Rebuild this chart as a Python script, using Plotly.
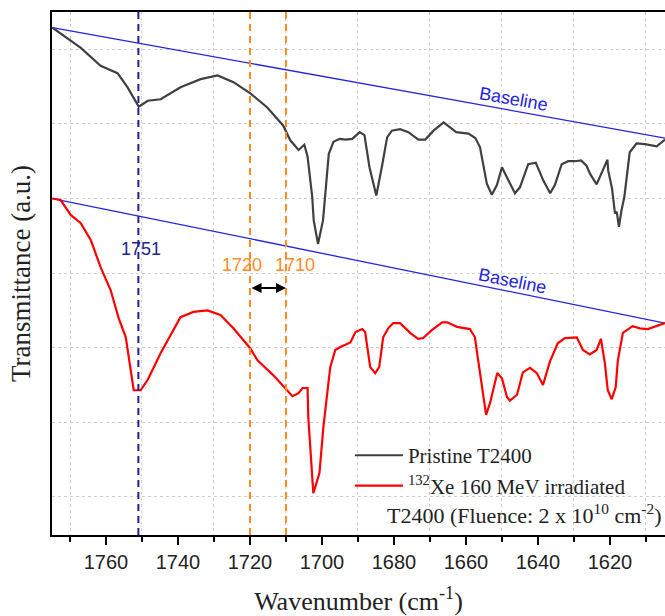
import plotly.graph_objects as go

# ---- data (wavenumber in cm-1, transmittance in arbitrary units) ----
pristine_wn = [1774.9, 1767.0, 1761.5, 1756.8, 1754.0, 1750.9, 1748.4, 1744.8, 1739.3, 1733.7,
               1729.0, 1724.6, 1719.9, 1715.2, 1710.8, 1708.8, 1706.5, 1704.9, 1704.0, 1702.7,
               1702.3, 1701.1, 1699.7, 1698.1, 1696.8, 1695.1, 1693.5, 1691.6, 1689.5, 1688.2,
               1686.8, 1684.9, 1683.3, 1681.9, 1680.6, 1678.3, 1676.0, 1673.2, 1671.3, 1669.0,
               1666.2, 1662.7, 1659.3, 1657.4, 1656.1, 1654.2, 1652.8, 1651.4, 1650.0, 1648.2,
               1646.4, 1645.0, 1642.7, 1640.6, 1638.5, 1636.6, 1635.3, 1633.4, 1631.6, 1629.7,
               1628.0, 1626.5, 1625.5, 1623.7, 1622.3, 1620.7, 1620.5, 1619.4, 1618.6, 1618.1,
               1617.5, 1616.8, 1616.0, 1615.4, 1614.5, 1612.6, 1610.3, 1607.0, 1604.7]
pristine_t = [7.29, 7.02, 6.78, 6.68, 6.49, 6.23, 6.31, 6.33, 6.49, 6.60,
              6.65, 6.56, 6.41, 6.22, 5.98, 5.78, 5.65, 5.72, 5.56, 5.02,
              4.71, 4.39, 4.71, 5.60, 5.76, 5.80, 5.79, 5.80, 5.89, 5.85,
              5.42, 5.04, 5.44, 5.82, 5.91, 5.93, 5.89, 5.79, 5.79, 5.91,
              6.02, 5.89, 5.87, 5.81, 5.69, 5.20, 5.05, 5.18, 5.42, 5.24,
              5.07, 5.15, 5.46, 5.48, 5.24, 5.07, 5.18, 5.46, 5.50, 5.50,
              5.51, 5.44, 5.33, 5.19, 5.35, 5.52, 5.38, 5.13, 4.80, 4.82,
              4.62, 4.84, 5.02, 5.29, 5.62, 5.74, 5.73, 5.70, 5.79]

irr_wn = [1774.9, 1772.6, 1769.8, 1767.0, 1764.2, 1761.5, 1758.7, 1757.9, 1756.5, 1754.5,
          1752.3, 1750.4, 1748.4, 1744.8, 1739.3, 1735.7, 1731.8, 1728.2, 1724.6, 1719.9,
          1717.9, 1713.5, 1709.6, 1708.2, 1706.5, 1705.4, 1704.0, 1703.8, 1702.4, 1700.7,
          1699.6, 1697.7, 1696.3, 1694.9, 1692.1, 1690.7, 1688.8, 1688.0, 1686.6, 1685.2,
          1684.1, 1683.0, 1681.6, 1680.2, 1678.3, 1675.5, 1673.3, 1671.9, 1669.4, 1666.6,
          1665.2, 1662.5, 1658.9, 1657.5, 1656.9, 1655.5, 1654.4, 1653.3, 1651.3, 1650.0,
          1648.6, 1647.8, 1645.8, 1644.2, 1642.2, 1640.3, 1638.6, 1636.7, 1634.5, 1632.5,
          1629.2, 1627.5, 1625.6, 1623.7, 1622.5, 1621.4, 1620.6, 1619.5, 1618.4, 1617.8,
          1616.7, 1616.4, 1613.7, 1611.7, 1609.5, 1604.7]
irr_t = [5.00, 4.98, 4.78, 4.67, 4.44, 4.08, 3.77, 3.64, 3.40, 3.14,
         2.43, 2.43, 2.57, 2.93, 3.41, 3.48, 3.50, 3.44, 3.26, 2.99,
         2.83, 2.63, 2.43, 2.35, 2.39, 2.46, 2.46, 2.07, 1.05, 1.32,
         1.94, 2.74, 2.97, 3.01, 3.07, 3.21, 3.25, 3.21, 2.74, 2.66,
         2.74, 3.14, 3.26, 3.33, 3.33, 3.20, 3.12, 3.13, 3.24, 3.34,
         3.34, 3.28, 3.25, 3.14, 2.93, 2.46, 2.10, 2.26, 2.66, 2.59,
         2.34, 2.29, 2.37, 2.67, 2.73, 2.66, 2.50, 2.81, 3.06, 3.13,
         3.14, 2.97, 2.91, 2.97, 3.12, 2.79, 2.43, 2.31, 2.47, 2.83,
         3.17, 3.20, 3.29, 3.26, 3.25, 3.33]

baseline_wn = [1774.9, 1604.7]
baseline_top_t = [7.29, 5.81]
baseline_bot_t = [5.00, 3.33]

peak_1751 = 1751
shift_lines = [1720, 1710]

x_range = [1775, 1604.7]
y_range = [0.49, 7.5]

BLUE = "#2424e0"
NAVY = "#22228f"
ORANGE = "#ff8c1e"

fig = go.Figure()

fig.add_trace(go.Scatter(x=baseline_wn, y=baseline_top_t, mode="lines",
                         line=dict(color=BLUE, width=1.3), showlegend=False, hoverinfo="skip"))
fig.add_trace(go.Scatter(x=baseline_wn, y=baseline_bot_t, mode="lines",
                         line=dict(color=BLUE, width=1.3), showlegend=False, hoverinfo="skip"))

fig.add_trace(go.Scatter(x=pristine_wn, y=pristine_t, mode="lines", name="Pristine T2400",
                         line=dict(color="#404040", width=2.2)))
fig.add_trace(go.Scatter(x=irr_wn, y=irr_t, mode="lines",
                         name="<sup>132</sup>Xe 160 MeV irradiated",
                         line=dict(color="#ff0000", width=2.2)))

fig.add_vline(x=peak_1751, line=dict(color=NAVY, width=2, dash="7px,5px"))
for xv in shift_lines:
    fig.add_vline(x=xv, line=dict(color=ORANGE, width=2, dash="7px,5px"))

ann_font = dict(family="Liberation Sans, Arial", size=18)
fig.add_annotation(x=peak_1751 - 0.6, y=4.33, text="1751", showarrow=False,
                   font=dict(color=NAVY, **ann_font))
fig.add_annotation(x=shift_lines[0] + 2.3, y=4.11, text=str(shift_lines[0]), showarrow=False,
                   font=dict(color=ORANGE, **ann_font))
fig.add_annotation(x=shift_lines[1] - 2.4, y=4.11, text=str(shift_lines[1]), showarrow=False,
                   font=dict(color=ORANGE, **ann_font))

# double-headed arrow between 1720 and 1710
fig.add_annotation(x=shift_lines[1], y=3.80, ax=shift_lines[0], ay=3.80,
                   xref="x", yref="y", axref="x", ayref="y", text="",
                   showarrow=True, arrowhead=2, startarrowhead=2, arrowside="end+start",
                   arrowsize=1, startarrowsize=1, arrowwidth=2, arrowcolor="black",
                   standoff=0, startstandoff=0)

base_font = dict(family="Liberation Sans, Arial", size=18, color=BLUE)
fig.add_annotation(x=1646.9, y=6.33, text="Baseline", showarrow=False, textangle=10,
                   font=base_font)
fig.add_annotation(x=1647.2, y=3.90, text="Baseline", showarrow=False, textangle=11.5,
                   font=base_font)

fig.add_annotation(xref="paper", yref="paper", x=0.544, y=0.04, xanchor="left", yanchor="middle",
                   text="T2400 (Fluence: 2 x 10<sup>10</sup> cm<sup>-2</sup>)", showarrow=False,
                   font=dict(family="Liberation Serif, Times New Roman", size=22, color="#222222"))

fig.update_layout(
    width=665, height=616,
    margin=dict(l=52, r=0, t=12, b=81),
    paper_bgcolor="white", plot_bgcolor="white",
    showlegend=True,
    legend=dict(x=0.486, y=0.191, xanchor="left", yanchor="top",
                bgcolor="rgba(0,0,0,0)", borderwidth=0, itemwidth=48,
                font=dict(family="Liberation Serif, Times New Roman", size=21, color="#222222"),
                tracegroupgap=0),
    xaxis=dict(range=x_range, tick0=1760, dtick=20, ticks="outside", ticklen=8, tickwidth=2,
               tickcolor="black", showgrid=False, showline=True, linewidth=2, linecolor="black",
               mirror=True, zeroline=False,
               tickfont=dict(family="Liberation Sans, Arial", size=20, color="#222222"),
               minor=dict(tick0=1770, dtick=20, ticks="outside", ticklen=5, tickwidth=2,
                          tickcolor="black", showgrid=True, gridcolor="#cfcfcf",
                          griddash="dot", gridwidth=1),
               title=dict(text="Wavenumber (cm<sup>-1</sup>)", standoff=22,
                          font=dict(family="Liberation Serif, Times New Roman", size=26,
                                    color="#222222"))),
    yaxis=dict(range=y_range, tick0=0, dtick=1, showticklabels=False, ticks="",
               showgrid=True, gridcolor="#cfcfcf", griddash="dot", gridwidth=1,
               showline=True, linewidth=2, linecolor="black", zeroline=False,
               title=dict(text="Transmittance (a.u.)", standoff=12,
                          font=dict(family="Liberation Serif, Times New Roman", size=27,
                                    color="#222222"))),
)

fig.write_html("out.html")
